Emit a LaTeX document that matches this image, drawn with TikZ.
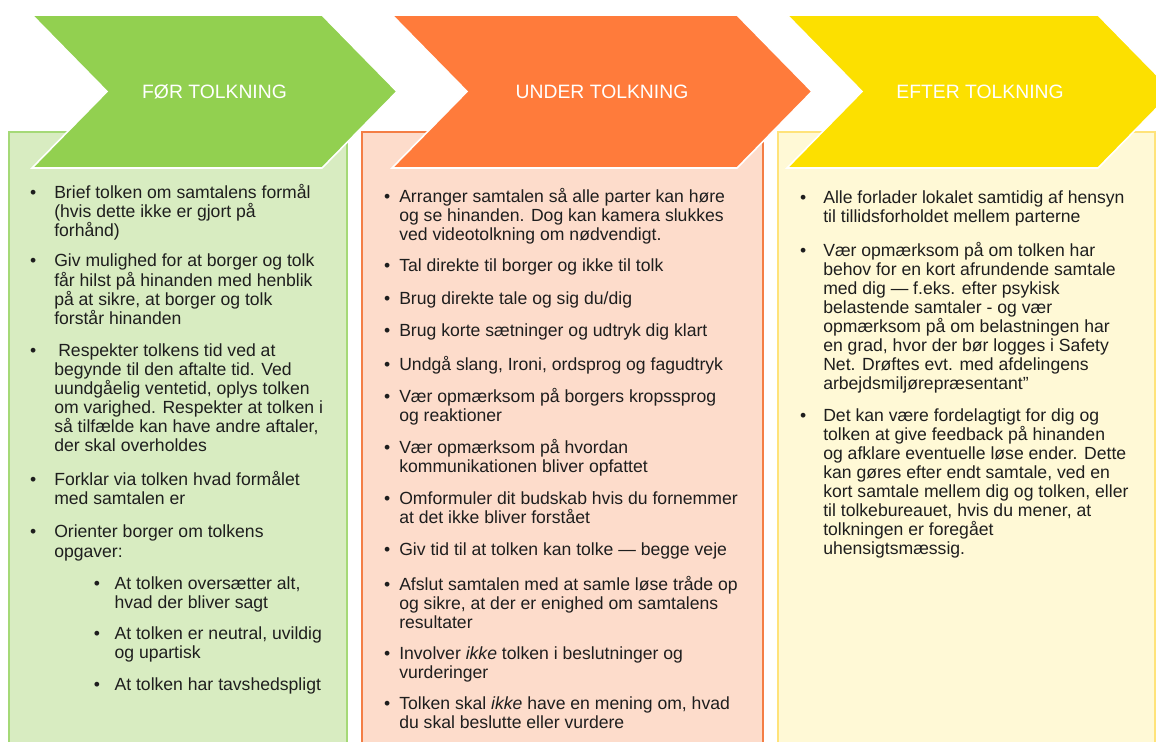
\documentclass[tikz,border=0pt]{standalone}
\usepackage{fontspec}
\setmainfont{Liberation Sans}
\definecolor{greenhead}{HTML}{92D050}
\definecolor{greenbox}{HTML}{D8ECC1}
\definecolor{greenedge}{HTML}{A5D977}
\definecolor{orangehead}{HTML}{FF7B3B}
\definecolor{orangebox}{HTML}{FDDCCB}
\definecolor{orangeedge}{HTML}{F47E45}
\definecolor{yellowhead}{HTML}{FCE000}
\definecolor{yellowbox}{HTML}{FFF9D6}
\definecolor{yellowedge}{HTML}{FFE37A}
\definecolor{ink}{HTML}{1E1E1E}
% bullet hung in front of the first line of an item (the rule fixes the line top)
\newcommand{\itembul}[1]{\rule{0pt}{10.01pt}\llap{\textbullet\hspace{#1}}}

\begin{document}
\begin{tikzpicture}[x=0.75pt,y=-0.75pt,
  body/.style={font=\fontsize{13.2pt}{14.3pt}\selectfont,text=ink,align=left,anchor=north west,yshift=10.01pt,inner sep=0pt},
  head/.style={font=\fontsize{14.5pt}{16pt}\selectfont,text=white,inner sep=0pt},
  column/.style={line width=0.8pt},
  chevron/.style={draw=white,line width=1.2pt}]
  \useasboundingbox (0,0) rectangle (1156,742);
  \clip (0,0) rectangle (1156,742);
  \fill[white] (0,0) rectangle (1156,742);

  % ===== columns =====
  \draw[column,draw=greenedge,fill=greenbox] (9,132) rectangle (347,760);
  \draw[column,draw=orangeedge,fill=orangebox] (362,132) rectangle (763,760);
  \draw[column,draw=yellowedge,fill=yellowbox] (778,132) rectangle (1155,760);

  % ===== chevrons =====
  \draw[chevron,fill=greenhead] (32,15) -- (322,15) -- (397,91.5) -- (322,168) -- (32,168) -- (107,91.5) -- cycle;
  \node[head] (forhead) at (214.5,91.5) {FØR TOLKNING};
  \draw[chevron,fill=orangehead] (392,15) -- (737,15) -- (812,91.5) -- (737,168) -- (392,168) -- (467,91.5) -- cycle;
  \node[head] (underhead) at (602,91.5) {UNDER TOLKNING};
  \draw[chevron,fill=yellowhead] (787,15) -- (1098,15) -- (1173,91.5) -- (1098,168) -- (787,168) -- (862,91.5) -- cycle;
  \node[head] (efterhead) at (980,91.5) {EFTER TOLKNING};

  % ===== før tolkning =====
  \node[body] (for1) at (54,197) {\itembul{13.5pt}Brief tolken om samtalens formål\\(hvis dette ikke er gjort på\\forhånd)};
  \node[body] (for2) at (54,266.7) {\itembul{13.5pt}Giv mulighed for at borger og tolk\\får hilst på hinanden med henblik\\på at sikre, at borger og tolk\\forstår hinanden};
  \node[body] (for3) at (54,356) {\itembul{13.5pt}\hspace{3pt}Respekter tolkens tid ved at\\begynde til den aftalte tid. Ved\\uundgåelig ventetid, oplys tolken\\om varighed. Respekter at tolken i\\så tilfælde kan have andre aftaler,\\der skal overholdes};
  \node[body] (for4) at (54,484.3) {\itembul{13.5pt}Forklar via tolken hvad formålet\\med samtalen er};
  \node[body] (for5) at (54,537.7) {\itembul{13.5pt}Orienter borger om tolkens\\opgaver:};
  \node[body] (forsub1) at (114.3,589) {\itembul{10.9pt}At tolken oversætter alt,\\hvad der bliver sagt};
  \node[body] (forsub2) at (114.3,639) {\itembul{10.9pt}At tolken er neutral, uvildig\\og upartisk};
  \node[body] (forsub3) at (114.3,690) {\itembul{10.9pt}At tolken har tavshedspligt};

  % ===== under tolkning =====
  \node[body] (under1) at (399,201) {\itembul{6.7pt}Arranger samtalen så alle parter kan høre\\og se hinanden. Dog kan kamera slukkes\\ved videotolkning om nødvendigt.};
  \node[body] (under2) at (399,271) {\itembul{6.7pt}Tal direkte til borger og ikke til tolk};
  \node[body] (under3) at (399,304) {\itembul{6.7pt}Brug direkte tale og sig du/dig};
  \node[body] (under4) at (399,336) {\itembul{6.7pt}Brug korte sætninger og udtryk dig klart};
  \node[body] (under5) at (399,369) {\itembul{6.7pt}Undgå slang, Ironi, ordsprog og fagudtryk};
  \node[body] (under6) at (399,401) {\itembul{6.7pt}Vær opmærksom på borgers kropssprog\\og reaktioner};
  \node[body] (under7) at (399,452) {\itembul{6.7pt}Vær opmærksom på hvordan\\kommunikationen bliver opfattet};
  \node[body] (under8) at (399,504) {\itembul{6.7pt}Omformuler dit budskab hvis du fornemmer\\at det ikke bliver forstået};
  \node[body] (under9) at (399,555) {\itembul{6.7pt}Giv tid til at tolken kan tolke — begge veje};
  \node[body] (under10) at (399,589) {\itembul{6.7pt}Afslut samtalen med at samle løse tråde op\\og sikre, at der er enighed om samtalens\\resultater};
  \node[body] (under11) at (399,659) {\itembul{6.7pt}Involver \textit{ikke} tolken i beslutninger og\\vurderinger};
  \node[body] (under12) at (399,709) {\itembul{6.7pt}Tolken skal \textit{ikke} have en mening om, hvad\\du skal beslutte eller vurdere};

  % ===== efter tolkning =====
  \node[body] (efter1) at (823,203) {\itembul{12.7pt}Alle forlader lokalet samtidig af hensyn\\til tillidsforholdet mellem parterne};
  \node[body] (efter2) at (823,255) {\itembul{12.7pt}Vær opmærksom på om tolken har\\behov for en kort afrundende samtale\\med dig — f.eks. efter psykisk\\belastende samtaler - og vær\\opmærksom på om belastningen har\\en grad, hvor der bør logges i Safety\\Net. Drøftes evt. med afdelingens\\arbejdsmiljørepræsentant"};
  \node[body] (efter3) at (823,421) {\itembul{12.7pt}Det kan være fordelagtigt for dig og\\tolken at give feedback på hinanden\\og afklare eventuelle løse ender. Dette\\kan gøres efter endt samtale, ved en\\kort samtale mellem dig og tolken, eller\\til tolkebureauet, hvis du mener, at\\tolkningen er foregået\\uhensigtsmæssig.};
\end{tikzpicture}
\end{document}
